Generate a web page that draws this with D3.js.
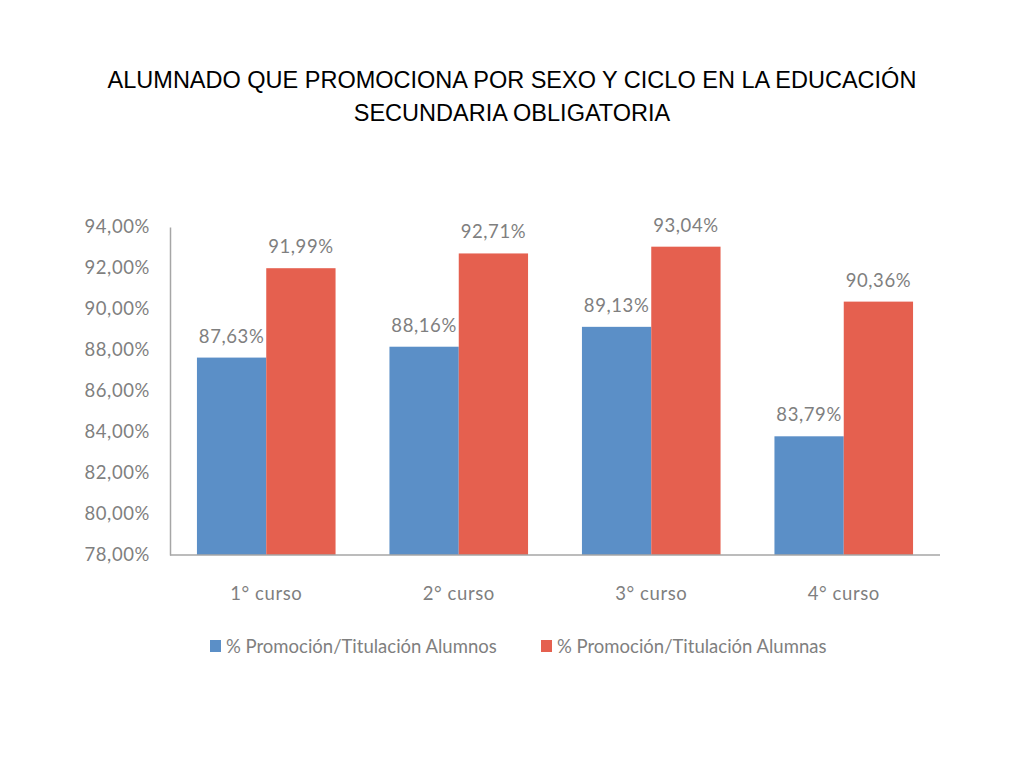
<!DOCTYPE html>
<html><head><meta charset="utf-8">
<script src="https://cdn.jsdelivr.net/npm/d3@7"></script>
<style>body{margin:0;background:#fff}</style>
</head><body>
<svg id="c" width="1024" height="768"></svg>
<script>
const categories = ["1° curso","2° curso","3° curso","4° curso"];
const seriesNames = ["% Promoción/Titulación Alumnos","% Promoción/Titulación Alumnas"];
const alumnos = [87.63, 88.16, 89.13, 83.79];
const alumnas = [91.99, 92.71, 93.04, 90.36];
const yTicks = [78,80,82,84,86,88,90,92,94];
const colors = ["#5B8FC7","#E5604F"];

const svg = d3.select("#c");
const fmt = v => v.toFixed(2).replace(".", ",") + "%";
const font = "Lato, 'Open Sans', sans-serif";
const style = sel => sel.style("font-family",font).style("font-size","18.5px")
  .style("letter-spacing","0.6px").attr("fill","#7f7f7f");

const titleFont = "'Liberation Sans', Arial, sans-serif";
svg.append("text").attr("x",512).attr("y",88).attr("text-anchor","middle")
  .style("font-family",titleFont).style("font-size","23.5px").attr("fill","#000")
  .text("ALUMNADO QUE PROMOCIONA POR SEXO Y CICLO EN LA EDUCACIÓN");
svg.append("text").attr("x",512).attr("y",121).attr("text-anchor","middle")
  .style("font-family",titleFont).style("font-size","23.5px").attr("fill","#000")
  .text("SECUNDARIA OBLIGATORIA");

const x = d3.scaleBand().domain(categories).range([170,940]).paddingInner(0.28).paddingOuter(0.14);
const xs = d3.scaleBand().domain([0,1]).range([0,x.bandwidth()]);
const y = d3.scaleLinear().domain([78,94]).range([555,227]);

// y axis
const ya = svg.append("g").attr("transform","translate(170,0)")
  .call(d3.axisLeft(y).tickValues(yTicks).tickSize(0).tickPadding(20).tickFormat(d => fmt(d)));
ya.select(".domain").attr("stroke","#a6a6a6").attr("stroke-width",1.5);
ya.selectAll("text").call(style);

// bars
const data = categories.map((c,i)=>({c, v:[alumnos[i], alumnas[i]]}));
const g = svg.append("g");
data.forEach(d=>{
  d.v.forEach((v,j)=>{
    g.append("rect").attr("x",x(d.c)+xs(j)).attr("width",xs.bandwidth())
      .attr("y",y(v)).attr("height",y(78)-y(v)).attr("fill",colors[j]);
    g.append("text").attr("x",x(d.c)+xs(j)+xs.bandwidth()/2).attr("y",y(v)-15)
      .attr("text-anchor","middle").call(style).text(fmt(v));
  });
});

// x axis
const xa = svg.append("g").attr("transform","translate(0,555)")
  .call(d3.axisBottom(x).tickSize(0).tickPadding(32));
xa.select(".domain").attr("stroke","#a6a6a6").attr("stroke-width",1.5).attr("d","M170,0H940");
xa.selectAll("text").call(style);

// legend
const legX = [210, 541];
seriesNames.forEach((n,j)=>{
  svg.append("rect").attr("x",legX[j]).attr("y",640).attr("width",11).attr("height",12).attr("fill",colors[j]);
  svg.append("text").attr("x",legX[j]+16).attr("y",653).call(style).style("letter-spacing","0px").text(n);
});
</script>
</body></html>
